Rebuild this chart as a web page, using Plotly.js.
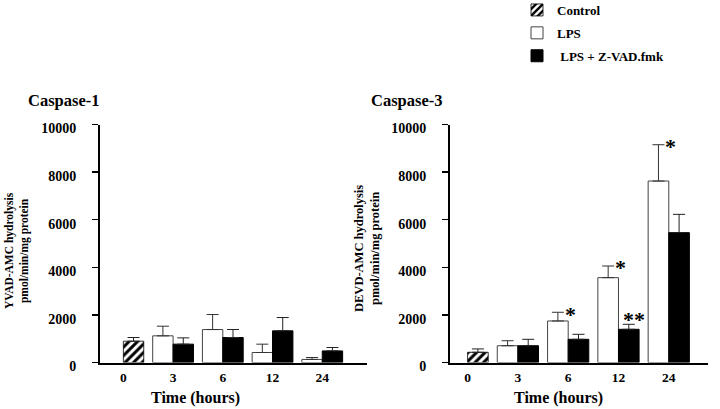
<!DOCTYPE html>
<html>
<head>
<meta charset="utf-8">
<script src="https://cdn.plot.ly/plotly-3.0.1.min.js"></script>
<style>html,body{margin:0;padding:0;background:#fff;}#chart{width:720px;height:409px;}</style>
</head>
<body>
<div id="chart"></div>
<script>
// ---- data ----
const categories = ['0', '3', '6', '12', '24'];
const controlCats = ['0'];
const treatCats = ['3', '6', '12', '24'];

const c1Control = [895];
const c1ControlErr = [155];
const c1LPS = [1120, 1385, 420, 130];
const c1LPSErr = [405, 630, 350, 80];
const c1ZVAD = [770, 1050, 1330, 487];
const c1ZVADErr = [265, 335, 560, 143];

const c3Control = [430];
const c3ControlErr = [140];
const c3LPS = [705, 1745, 3565, 7625];
const c3LPSErr = [210, 365, 490, 1525];
const c3ZVAD = [705, 975, 1395, 5455];
const c3ZVADErr = [270, 210, 210, 770];

const c3LPSSig = ['', '*', '*', '*'];
const c3ZVADSig = ['', '', '**', ''];

const seriesNames = ['Control', 'LPS', 'LPS + Z-VAD.fmk'];
const legendPad = ['', '', '\u00a0'];
const yTicks = [0, 2000, 4000, 6000, 8000, 10000];

// ---- style ----
const FONT = 'Liberation Serif, "Times New Roman", Times, serif';
const W = 720, H = 409;
const px = v => v / W;
const py = v => 1 - v / H;
const BW = 0.41;
const zeros = a => a.map(() => 0);

function errY(arr, color) {
  return {type: 'data', symmetric: false, array: arr, arrayminus: zeros(arr),
          color: color, thickness: 1, width: 6};
}

function panel(xa, ya, ctrl, ctrlErr, lps, lpsErr, zv, zvErr, show) {
  return [
    {type: 'bar', name: legendPad[0] + seriesNames[0], x: controlCats, y: ctrl, xaxis: xa, yaxis: ya,
     width: BW, offset: 0, legendgroup: 'g0', showlegend: show,
     marker: {color: 'white', line: {color: 'black', width: 0.8},
              pattern: {shape: '/', fgcolor: 'black', bgcolor: 'white', size: 6, solidity: 0.5}},
     error_y: errY(ctrlErr, '#222'), hoverinfo: 'skip'},
    {type: 'bar', name: legendPad[1] + seriesNames[1], x: treatCats, y: lps, xaxis: xa, yaxis: ya,
     width: BW, offset: -BW, legendgroup: 'g1', showlegend: show,
     marker: {color: 'white', line: {color: '#444', width: 1}},
     error_y: errY(lpsErr, '#333'), hoverinfo: 'skip'},
    {type: 'bar', name: legendPad[2] + seriesNames[2], x: treatCats, y: zv, xaxis: xa, yaxis: ya,
     width: BW, offset: 0, legendgroup: 'g2', showlegend: show,
     marker: {color: 'black', line: {color: 'black', width: 1}},
     error_y: errY(zvErr, '#222'), hoverinfo: 'skip'}
  ];
}

const data = [].concat(
  panel('x', 'y', c1Control, c1ControlErr, c1LPS, c1LPSErr, c1ZVAD, c1ZVADErr, true),
  panel('x2', 'y2', c3Control, c3ControlErr, c3LPS, c3LPSErr, c3ZVAD, c3ZVADErr, false)
);

function xAxis(domain, range, anchor) {
  return {domain: domain, anchor: anchor, type: 'category', categoryorder: 'array',
          categoryarray: categories, range: range, showline: true, linewidth: 2,
          linecolor: 'black', ticks: '', showgrid: false, zeroline: false,
          tickfont: {family: FONT, size: 13.5, color: 'black', weight: 'bold'},
          ticklabelstandoff: 1, fixedrange: true, automargin: false};
}
function yAxis(anchor) {
  return {domain: [py(362.5), py(124.5)], anchor: anchor, range: [0, 10000],
          tickvals: yTicks, ticktext: yTicks.map(String), showline: true, linewidth: 2,
          linecolor: 'black', ticks: 'outside', ticklen: 6, tickwidth: 1.5, tickcolor: 'black',
          showgrid: false, zeroline: false,
          tickfont: {family: FONT, size: 14, color: 'black', weight: 'bold'},
          ticklabelstandoff: 13, ticklabelshift: 4, fixedrange: true, automargin: false};
}

const annotations = [];
function txt(x, y, text, size, opts) {
  annotations.push(Object.assign({xref: 'paper', yref: 'paper', x: px(x), y: py(y), text: text,
    showarrow: false, font: {family: FONT, size: size, color: 'black', weight: 'bold'},
    xanchor: 'center', yanchor: 'middle'}, opts || {}));
}
txt(26, 100, 'Caspase-1', 16.5, {xanchor: 'left'});
txt(369, 100, 'Caspase-3', 16.5, {xanchor: 'left'});
txt(196, 398, 'Time (hours)', 16);
txt(558, 398, 'Time (hours)', 16);
txt(17, 251, 'YVAD-AMC hydrolysis<br>pmol/min/mg protein', 11.5, {textangle: -90});
txt(367, 249, 'DEVD-AMC hydrolysis<br>pmol/min/mg protein', 12.5, {textangle: -90});

function sig(labels, cats, vals, errs, xa, ya, xs, ys) {
  labels.forEach((s, i) => {
    if (!s) return;
    annotations.push({xref: xa, yref: ya, x: categories.indexOf(cats[i]), y: vals[i] + errs[i], text: s,
      showarrow: false, xanchor: 'center', yanchor: 'middle', xshift: xs, yshift: ys,
      font: {family: FONT, size: 22, color: 'black', weight: 'bold'}});
  });
}
sig(c3LPSSig, treatCats, c3LPS, c3LPSErr, 'x2', 'y2', 2, -2);
sig(c3ZVADSig, treatCats, c3ZVAD, c3ZVADErr, 'x2', 'y2', 16, 5);

const layout = {
  width: W, height: H, autosize: false,
  margin: {l: 0, r: 0, t: 0, b: 0, autoexpand: false},
  paper_bgcolor: 'white', plot_bgcolor: 'white',
  barmode: 'overlay',
  xaxis: xAxis([px(100), px(367)], [-0.47, 4.9], 'y'),
  yaxis: yAxis('x'),
  xaxis2: xAxis([px(450), px(708)], [-0.35, 4.78], 'y2'),
  yaxis2: yAxis('x2'),
  showlegend: true,
  legend: {x: px(517), y: 1 + 5 / H, xanchor: 'left', yanchor: 'top', traceorder: 'grouped',
           tracegroupgap: 3, bgcolor: 'rgba(0,0,0,0)',
           font: {family: FONT, size: 13, color: 'black', weight: 'bold'}},
  annotations: annotations
};

Plotly.newPlot('chart', data, layout, {displayModeBar: false, staticPlot: true});
</script>
</body>
</html>
